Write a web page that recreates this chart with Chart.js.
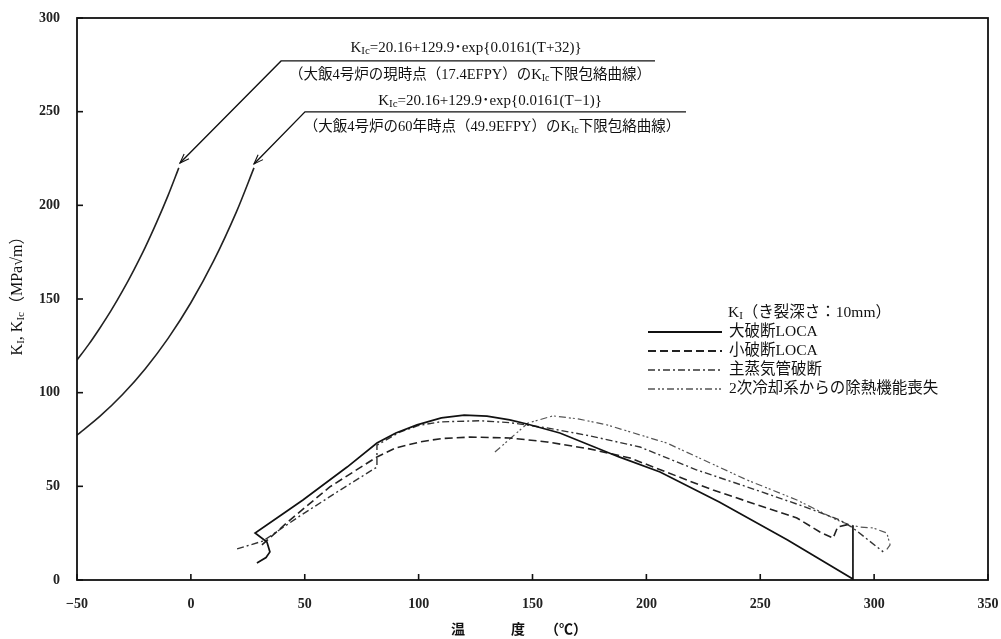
<!DOCTYPE html>
<html>
<head>
<meta charset="utf-8">
<script src="https://cdn.jsdelivr.net/npm/chart.js@4.4.1/dist/chart.umd.min.js"></script>
<style>
  html, body { margin: 0; padding: 0; background: #fff; }
  #chart-canvas { display: block; }
</style>
</head>
<body>
<canvas id="chart-canvas" width="1001" height="639"></canvas>
<script>
// axis ticks
var xTicks = [-50, 0, 50, 100, 150, 200, 250, 300, 350];
var yTicks = [0, 50, 100, 150, 200, 250, 300];

// KIc lower bound curves (temperature, MPa√m)
var kicNowT = [-50, -45, -40, -35, -30, -25, -20, -15, -10, -5.3];
var kicNowK = [117.4, 125.5, 134.4, 143.9, 154.3, 165.6, 177.7, 191.0, 205.3, 220];
var kic60T = [-50, -40, -30, -20, -10, 0, 10, 20, 27.7];
var kic60K = [77.3, 87.3, 99.0, 112.8, 129.0, 148.0, 170.3, 196.5, 220];

// KI transients
var lbT = [29, 33, 34.7, 33.4, 28.2, 40, 49.2, 68.6, 81.7, 90, 99.3, 110, 120, 130, 140, 147.6, 162, 188, 206, 232, 262, 290.7, 290.7];
var lbK = [9.1, 12, 15, 20.3, 25.1, 35, 42.7, 60.3, 73.1, 78.5, 82.8, 86.5, 88, 87.5, 85.5, 83.3, 78.5, 65.7, 57.7, 41.6, 21.4, 0.5, 29];

var sbT = [31.2, 43.5, 61, 81.7, 90, 100.6, 110, 122.6, 140, 156.4, 175, 192.8, 229.3, 266.1, 276.2, 282, 284, 289.4];
var sbK = [18.7, 32, 49.7, 65.7, 70.5, 73.7, 75.5, 76.3, 75.8, 73.7, 70, 65.1, 48, 33.1, 25.6, 22.4, 28.3, 29.9];

var msT = [20.3, 31.7, 47.9, 65.5, 81.7, 81.7, 91.8, 100, 109.4, 127, 140, 156.4, 175, 197.2, 222.2, 244.2, 267.4, 285, 290.7, 304];
var msK = [16.6, 20.8, 34.2, 48, 60.3, 72, 79, 82.5, 84.4, 85, 84, 81.2, 77, 71, 58.7, 49.7, 40, 32, 27.8, 15];

var hrT = [133.5, 148, 159, 170, 182.7, 209, 244.2, 266.1, 283.7, 289.4, 293.8, 299.5, 305.6, 307, 304.8];
var hrK = [68.3, 83.8, 87.6, 86, 82.8, 73.1, 53.4, 42.7, 32, 29.4, 28.3, 27.8, 25.1, 18.7, 15];

var legendTitle = ["K", "I", "（き裂深さ：10mm）"];
var seriesNames = ["大破断LOCA", "小破断LOCA", "主蒸気管破断", "2次冷却系からの除熱機能喪失"];

// annotation leaders in data units: [start of shelf, end of shelf, arrow tip]
var note1 = { shelf: [39.6, 277.1], end: 203.8, tip: [-4.8, 222.6] };
var note2 = { shelf: [50.1, 249.9], end: 217.4, tip: [27.7, 222.1] };

var SERIF = "'Liberation Serif', 'Noto Sans CJK JP', serif";

function pts(xs, ys) {
  return xs.map(function (x, i) { return { x: x, y: ys[i] }; });
}

// draws text with subscripts, parts = [[text, isSub], ...]
function richText(ctx, parts, x, y, size, align) {
  var w = 0;
  parts.forEach(function (p) {
    ctx.font = (p[1] ? Math.round(size * 0.7) : size) + "px " + SERIF;
    w += ctx.measureText(p[0]).width;
  });
  var cx = align === "center" ? x - w / 2 : x;
  ctx.textBaseline = "middle";
  ctx.textAlign = "left";
  parts.forEach(function (p) {
    ctx.font = (p[1] ? Math.round(size * 0.7) : size) + "px " + SERIF;
    ctx.fillText(p[0], cx, p[1] ? y + size * 0.2 : y);
    cx += ctx.measureText(p[0]).width;
  });
}

var decor = {
  id: "decor",
  afterDraw: function (chart) {
    var ctx = chart.ctx;
    var a = chart.chartArea;
    var xs = chart.scales.x, ys = chart.scales.y;
    ctx.save();
    ctx.strokeStyle = "#111";
    ctx.fillStyle = "#111";

    // frame
    ctx.lineWidth = 1.8;
    ctx.strokeRect(a.left, a.top, a.right - a.left, a.bottom - a.top);

    // inward ticks
    ctx.lineWidth = 1.6;
    xTicks.forEach(function (v) {
      var px = xs.getPixelForValue(v);
      ctx.beginPath(); ctx.moveTo(px, a.bottom); ctx.lineTo(px, a.bottom - 6); ctx.stroke();
    });
    yTicks.forEach(function (v) {
      var py = ys.getPixelForValue(v);
      ctx.beginPath(); ctx.moveTo(a.left, py); ctx.lineTo(a.left + 6, py); ctx.stroke();
    });

    // annotation leaders with arrows
    [note1, note2].forEach(function (n) {
      var sx = xs.getPixelForValue(n.shelf[0]), sy = ys.getPixelForValue(n.shelf[1]);
      var ex = xs.getPixelForValue(n.end);
      var tx = xs.getPixelForValue(n.tip[0]), ty = ys.getPixelForValue(n.tip[1]);
      ctx.lineWidth = 1.4;
      ctx.beginPath(); ctx.moveTo(ex, sy); ctx.lineTo(sx, sy); ctx.lineTo(tx, ty); ctx.stroke();
      var ang = Math.atan2(sy - ty, sx - tx);
      ctx.lineWidth = 1.1;
      ctx.beginPath();
      ctx.moveTo(tx + 10 * Math.cos(ang + 0.35), ty + 10 * Math.sin(ang + 0.35));
      ctx.lineTo(tx, ty);
      ctx.lineTo(tx + 10 * Math.cos(ang - 0.35), ty + 10 * Math.sin(ang - 0.35));
      ctx.stroke();
    });

    // annotation texts
    richText(ctx, [["K", false], ["Ic", true], ["=20.16+129.9･exp{0.0161(T+32)}", false]], 466, 48, 15, "center");
    richText(ctx, [["（大飯4号炉の現時点（17.4EFPY）のK", false], ["Ic", true], ["下限包絡曲線）", false]], 470, 75, 14.5, "center");
    richText(ctx, [["K", false], ["Ic", true], ["=20.16+129.9･exp{0.0161(T−1)}", false]], 490, 101, 15, "center");
    richText(ctx, [["（大飯4号炉の60年時点（49.9EFPY）のK", false], ["Ic", true], ["下限包絡曲線）", false]], 492, 127, 14.5, "center");

    // legend
    richText(ctx, [[legendTitle[0], false], [legendTitle[1], true], [legendTitle[2], false]], 728, 313, 15.5, "left");
    var rowY = [332, 351, 370, 389];
    chart.data.datasets.slice(2).forEach(function (ds, i) {
      ctx.save();
      ctx.strokeStyle = ds.borderColor;
      ctx.lineWidth = ds.borderWidth + 0.3;
      ctx.setLineDash(ds.borderDash || []);
      ctx.beginPath(); ctx.moveTo(648, rowY[i]); ctx.lineTo(722, rowY[i]); ctx.stroke();
      ctx.restore();
      richText(ctx, [[seriesNames[i], false]], 729, rowY[i], 15.5, "left");
    });

    // axis titles
    ctx.font = "bold 14px " + SERIF;
    ctx.textAlign = "center";
    ctx.textBaseline = "middle";
    ctx.fillText("温", 458, 630);
    ctx.fillText("度", 518, 630);
    ctx.fillText("（℃）", 566, 630);

    ctx.save();
    ctx.translate(18, 292);
    ctx.rotate(-Math.PI / 2);
    richText(ctx, [["K", false], ["I", true], [", K", false], ["Ic", true], ["（MPa√m）", false]], 0, 0, 16, "center");
    ctx.restore();

    ctx.restore();
  }
};

var ctx = document.getElementById("chart-canvas");

var chartCanvas = new Chart(ctx, {
  type: "scatter",
  data: {
    datasets: [
      { label: "KIc now", data: pts(kicNowT, kicNowK), borderColor: "#222", borderWidth: 1.6, tension: 0.3 },
      { label: "KIc 60y", data: pts(kic60T, kic60K), borderColor: "#222", borderWidth: 1.6, tension: 0.3 },
      { label: seriesNames[0], data: pts(lbT, lbK), borderColor: "#111", borderWidth: 1.7, tension: 0 },
      { label: seriesNames[1], data: pts(sbT, sbK), borderColor: "#222", borderWidth: 1.6, borderDash: [8, 4], tension: 0 },
      { label: seriesNames[2], data: pts(msT, msK), borderColor: "#333", borderWidth: 1.4, borderDash: [7, 3, 2, 3], tension: 0 },
      { label: seriesNames[3], data: pts(hrT, hrK), borderColor: "#555", borderWidth: 1.2, borderDash: [7, 3, 2, 2, 2, 3], tension: 0 }
    ].map(function (d) {
      d.showLine = true;
      d.pointRadius = 0;
      d.fill = false;
      return d;
    })
  },
  options: {
    responsive: false,
    animation: false,
    layout: { padding: { top: 18, right: 13, left: 0, bottom: 0 } },
    plugins: { legend: { display: false }, tooltip: { enabled: false } },
    scales: {
      x: {
        type: "linear", min: -50, max: 350,
        grid: { display: false, drawTicks: true, tickLength: 16 },
        border: { display: false },
        afterBuildTicks: function (s) { s.ticks = xTicks.map(function (v) { return { value: v }; }); },
        afterFit: function (s) { s.height = 59; },
        ticks: {
          padding: 0, color: "#222", maxRotation: 0,
          font: { family: SERIF, size: 14, weight: "bold" },
          callback: function (v) { return String(v).replace("-", "−"); }
        }
      },
      y: {
        min: 0, max: 300,
        grid: { display: false, drawTicks: true, tickLength: 17 },
        border: { display: false },
        afterBuildTicks: function (s) { s.ticks = yTicks.map(function (v) { return { value: v }; }); },
        afterFit: function (s) { s.width = 77; },
        ticks: {
          padding: 0, color: "#222",
          font: { family: SERIF, size: 14, weight: "bold" }
        }
      }
    }
  },
  plugins: [decor]
});
</script>
</body>
</html>
